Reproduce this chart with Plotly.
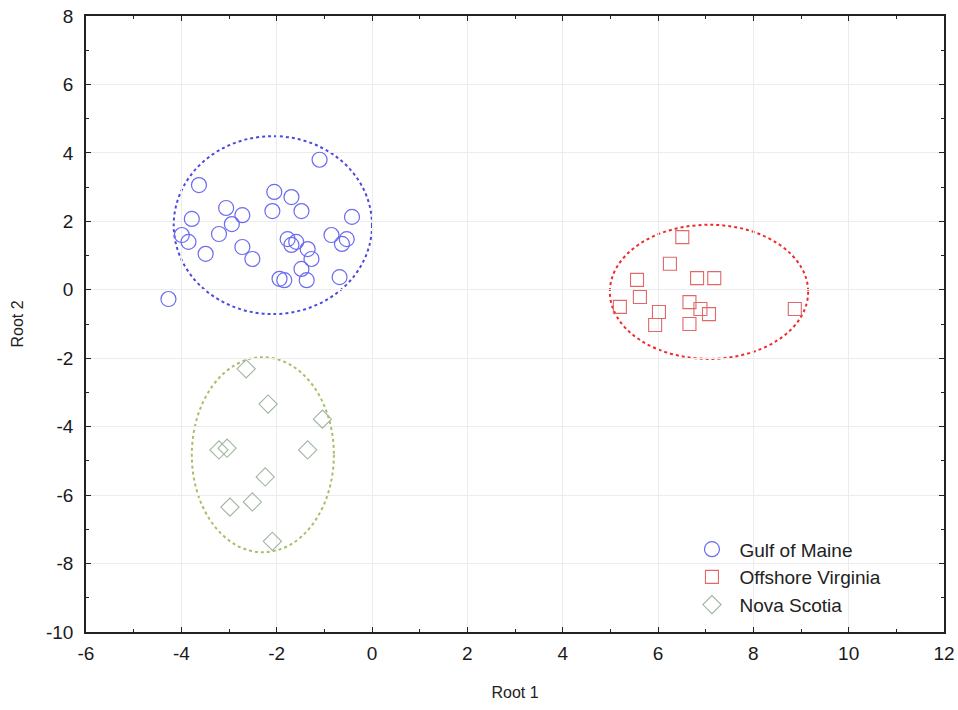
import plotly.graph_objects as go

# ---- data ----
gulf_x = [-1.10, -3.63, -2.05, -1.69, -3.06, -2.72, -2.09, -1.48, -3.78, -0.42,
          -2.94, -3.21, -3.99, -3.85, -0.85, -0.53, -0.63, -1.77, -1.59, -1.69,
          -1.35, -1.27, -1.48, -3.49, -2.72, -2.51, -1.94, -1.84, -1.37, -0.68, -4.27]
gulf_y = [3.80, 3.06, 2.86, 2.71, 2.39, 2.18, 2.30, 2.30, 2.07, 2.13,
          1.92, 1.63, 1.60, 1.40, 1.60, 1.48, 1.34, 1.48, 1.40, 1.31,
          1.19, 0.90, 0.61, 1.05, 1.25, 0.90, 0.32, 0.28, 0.28, 0.37, -0.27]

virg_x = [6.51, 6.25, 5.56, 6.82, 7.18, 5.62, 5.20, 6.66, 6.89, 7.07, 6.02, 5.94, 6.66, 8.87]
virg_y = [1.54, 0.76, 0.29, 0.34, 0.34, -0.21, -0.50, -0.36, -0.56, -0.71, -0.65, -1.03, -1.00, -0.56]

nova_x = [-2.64, -2.18, -1.04, -3.21, -3.04, -1.35, -2.24, -2.51, -2.98, -2.09]
nova_y = [-2.31, -3.34, -3.78, -4.68, -4.63, -4.68, -5.47, -6.20, -6.35, -7.35]

# ellipse parameters: center x, center y, radius x, radius y
gulf_ell = [-2.08, 1.89, 2.08, 2.60]
virg_ell = [7.07, -0.06, 2.08, 1.96]
nova_ell = [-2.29, -4.82, 1.49, 2.85]

series = ["Gulf of Maine", "Offshore Virginia", "Nova Scotia"]
x_ticks = [-6, -4, -2, 0, 2, 4, 6, 8, 10, 12]
x_tick_text = ["-6", "-4", "-2", "0", "2", "4", "6", "8", "10", "12"]
y_ticks = [-10, -8, -6, -4, -2, 0, 2, 4, 6, 8]
y_tick_text = ["-10", "-8", "-6", "-4", "-2", "0", "2", "4", "6", "8"]

# ---- style ----
FONT = "Liberation Sans, Arial, sans-serif"
c_gulf = "#6b6bf0"
c_virg = "#e06868"
c_nova = "#9fb59f"

fig = go.Figure()
fig.add_trace(go.Scatter(x=gulf_x, y=gulf_y, mode="markers", name=series[0],
                         marker=dict(symbol="circle-open", size=15, color=c_gulf,
                                     line=dict(width=1.2, color=c_gulf))))
fig.add_trace(go.Scatter(x=virg_x, y=virg_y, mode="markers", name=series[1],
                         marker=dict(symbol="square-open", size=13, color=c_virg,
                                     line=dict(width=1.1, color=c_virg))))
fig.add_trace(go.Scatter(x=nova_x, y=nova_y, mode="markers", name=series[2],
                         marker=dict(symbol="diamond-open", size=14, color=c_nova,
                                     line=dict(width=1.1, color=c_nova))))

for ell, col in [(gulf_ell, "#4a4ae0"), (virg_ell, "#f02a2a"), (nova_ell, "#a8bf68")]:
    cx, cy, rx, ry = ell
    fig.add_shape(type="circle", xref="x", yref="y",
                  x0=cx - rx, x1=cx + rx, y0=cy - ry, y1=cy + ry,
                  line=dict(color=col, width=2, dash="dot"), layer="below")

axis_common = dict(
    showline=True, linecolor="#222222", linewidth=1.5, mirror="ticks",
    ticks="inside", ticklen=5, tickwidth=1.2, tickcolor="#222222",
    showgrid=True, gridcolor="#ececec", gridwidth=1, zeroline=False,
    automargin=False,
    tickfont=dict(family=FONT, size=19, color="#1a1a1a"),
    minor=dict(ticks="inside", ticklen=3, tickcolor="#222222", dtick=1, showgrid=False),
)

fig.update_xaxes(range=[-6, 12], tickvals=x_ticks, ticktext=x_tick_text, ticklabelstandoff=3,
                 **axis_common,
                 title=dict(text="Root 1", font=dict(family=FONT, size=16, color="#222222"), standoff=24))
fig.update_yaxes(range=[-10, 8], tickvals=y_ticks, ticktext=y_tick_text, ticklabelstandoff=7,
                 **axis_common,
                 title=dict(text="Root 2", font=dict(family=FONT, size=16, color="#222222"), standoff=18))

fig.update_layout(
    width=958, height=710,
    margin=dict(l=86, r=14, t=16, b=78),
    plot_bgcolor="white", paper_bgcolor="white",
    showlegend=True,
    legend=dict(x=0.6975, y=0.165, xanchor="left", yanchor="top",
                bgcolor="rgba(0,0,0,0)", borderwidth=0,
                font=dict(family=FONT, size=19, color="#222222"),
                itemsizing="trace", itemwidth=45, tracegroupgap=0),
)

fig.write_html("out.html", config={"displayModeBar": False},
               post_script="document.body.style.margin='0px';document.body.style.overflow='hidden';")
